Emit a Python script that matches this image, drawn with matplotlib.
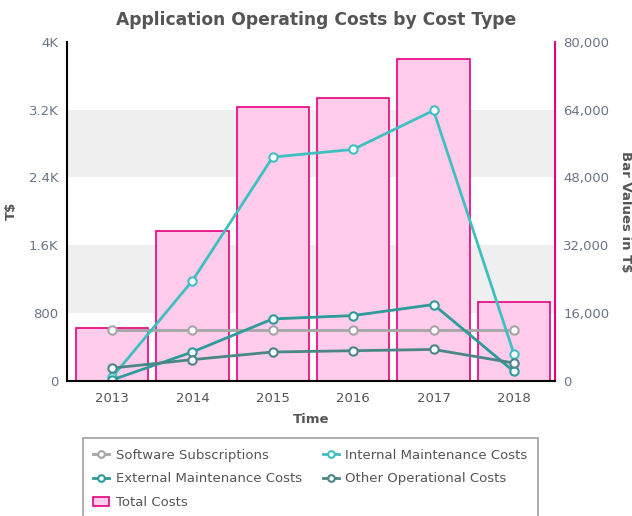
import matplotlib.pyplot as plt
from matplotlib.ticker import FuncFormatter

years = ["2013", "2014", "2015", "2016", "2017", "2018"]
total_costs = [12500, 35400, 64600, 66800, 76000, 18600]
software_subscriptions = [600, 600, 600, 600, 600, 600]
internal_maintenance = [40, 1180, 2640, 2730, 3190, 320]
external_maintenance = [10, 340, 730, 770, 900, 110]
other_operational = [150, 250, 340, 355, 370, 210]

left_ticks = [0, 800, 1600, 2400, 3200, 4000]
right_ticks = [0, 16000, 32000, 48000, 64000, 80000]

TICK_COLOR = "#6b7488"
TEXT_COLOR = "#555555"
PINK = "#e6007e"

fig = plt.figure(figsize=(6.32, 5.16), dpi=100)
ax = fig.add_axes([0.106, 0.262, 0.772, 0.657])
ax2 = ax.twinx()

x = list(range(len(years)))

# bars and shaded bands live on the right-hand axis, behind the lines
ax2.axhspan(16000, 32000, color="#efefef", zorder=0, lw=0)
ax2.axhspan(48000, 64000, color="#efefef", zorder=0, lw=0)
bars = ax2.bar(x, total_costs, width=0.9, color="#ffcceb", edgecolor=PINK,
               linewidth=1.2, zorder=1, label="Total Costs")
ax2.set_ylim(0, 80000)
ax2.set_yticks(right_ticks)
ax2.yaxis.set_major_formatter(FuncFormatter(lambda v, p: f"{int(v):,}"))

ax.set_zorder(ax2.get_zorder() + 1)
ax.patch.set_visible(False)

series = [
    ("Software Subscriptions", software_subscriptions, "#a6a6a6"),
    ("Internal Maintenance Costs", internal_maintenance, "#3fc0c0"),
    ("External Maintenance Costs", external_maintenance, "#2e9a9a"),
    ("Other Operational Costs", other_operational, "#4a8686"),
]
lines = {}
for name, vals, col in series:
    ln, = ax.plot(x, vals, color=col, lw=2, marker="o", markersize=6,
                  markerfacecolor="white", markeredgecolor=col,
                  markeredgewidth=1.5, label=name)
    lines[name] = ln

ax.set_xlim(-0.56, 5.51)
ax2.set_xlim(-0.56, 5.51)
ax.set_ylim(0, 4000)
ax.set_yticks(left_ticks)
ax.yaxis.set_major_formatter(
    FuncFormatter(lambda v, p: "0" if v == 0 else (f"{v/1000:g}K" if v >= 1000 else f"{int(v)}")))
ax.set_xticks(x)
ax.set_xticklabels(years)

for a in (ax, ax2):
    a.spines["top"].set_visible(False)
    a.tick_params(length=0, labelsize=9.5)
ax.spines["right"].set_visible(False)
ax2.spines["left"].set_visible(False)
ax2.spines["bottom"].set_visible(False)
ax2.spines["right"].set_color(PINK)
ax2.spines["right"].set_linewidth(1.5)
ax.spines["left"].set_linewidth(1.5)
ax.spines["bottom"].set_linewidth(1.5)

ax.tick_params(axis="y", colors=TICK_COLOR, pad=6)
ax.tick_params(axis="x", colors=TEXT_COLOR, pad=8)
ax2.tick_params(axis="y", colors=TICK_COLOR, pad=6)

ax.set_xlabel("Time", fontsize=9.5, fontweight="bold", color=TEXT_COLOR, labelpad=6)
ax.set_ylabel("T$", fontsize=9.5, fontweight="bold", color=TEXT_COLOR, labelpad=8)
ax2.set_ylabel("Bar Values in T$", fontsize=9.5, fontweight="bold",
               color=TEXT_COLOR, rotation=-90, labelpad=16)

fig.suptitle("Application Operating Costs by Cost Type", x=0.5, y=0.978,
             fontsize=12.3, fontweight="bold", color=TEXT_COLOR)

handles = [lines["Software Subscriptions"], lines["External Maintenance Costs"], bars,
           lines["Internal Maintenance Costs"], lines["Other Operational Costs"]]
leg = fig.legend(handles, [h.get_label() for h in handles], ncol=2,
                 loc="upper left", bbox_to_anchor=(0.131, 0.151),
                 borderaxespad=0, fontsize=9.5, frameon=True, fancybox=False,
                 handlelength=1.2, handletextpad=0.5, columnspacing=1.6,
                 labelspacing=0.8, borderpad=0.8, markerscale=0.8)
leg.get_frame().set_edgecolor("#888888")
leg.get_frame().set_linewidth(1.2)
for t in leg.get_texts():
    t.set_color(TEXT_COLOR)

fig.savefig("out.png", dpi=100)
